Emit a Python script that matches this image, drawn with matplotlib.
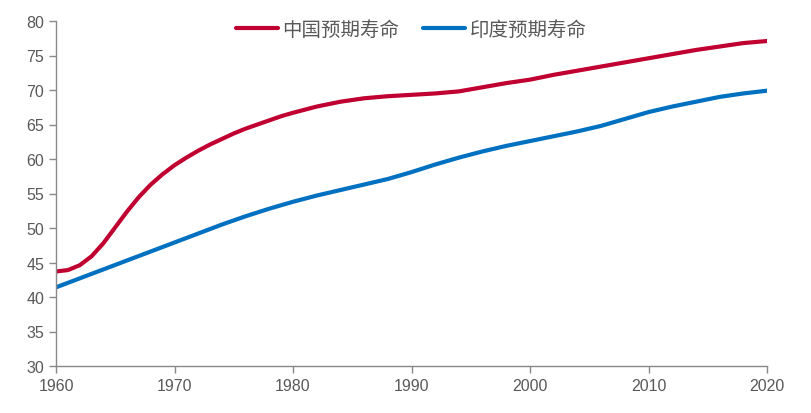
import matplotlib
matplotlib.use("Agg")
import matplotlib.pyplot as plt

china_years = [1960, 1961, 1962, 1963, 1964, 1965, 1966, 1967, 1968, 1969, 1970,
               1971, 1972, 1973, 1974, 1975, 1976, 1977, 1978, 1979, 1980,
               1982, 1984, 1986, 1988, 1990, 1992, 1994, 1996, 1998, 2000,
               2002, 2004, 2006, 2008, 2010, 2012, 2014, 2016, 2018, 2020]
china_life = [43.7, 43.9, 44.6, 45.9, 47.8, 50.1, 52.4, 54.5, 56.3, 57.8, 59.1,
              60.2, 61.2, 62.1, 62.9, 63.7, 64.4, 65.0, 65.6, 66.2, 66.7,
              67.6, 68.3, 68.8, 69.1, 69.3, 69.5, 69.8, 70.4, 71.0, 71.5,
              72.2, 72.8, 73.4, 74.0, 74.6, 75.2, 75.8, 76.3, 76.8, 77.1]

india_years = [1960, 1962, 1964, 1966, 1968, 1970, 1972, 1974, 1976, 1978, 1980,
               1982, 1984, 1986, 1988, 1990, 1992, 1994, 1996, 1998, 2000,
               2002, 2004, 2006, 2008, 2010, 2012, 2014, 2016, 2018, 2020]
india_life = [41.4, 42.7, 44.0, 45.3, 46.6, 47.9, 49.2, 50.5, 51.7, 52.8, 53.8,
              54.7, 55.5, 56.3, 57.1, 58.1, 59.2, 60.2, 61.1, 61.9, 62.6,
              63.3, 64.0, 64.8, 65.8, 66.8, 67.6, 68.3, 69.0, 69.5, 69.9]

series_labels = ["中国预期寿命", "印度预期寿命"]
x_ticks = [1960, 1970, 1980, 1990, 2000, 2010, 2020]
y_ticks = [30, 35, 40, 45, 50, 55, 60, 65, 70, 75, 80]

plt.rcParams['font.family'] = ['Liberation Sans', 'Noto Sans CJK SC', 'DejaVu Sans']

fig = plt.figure(figsize=(8.11, 4.14), dpi=100)
ax = fig.add_axes([56/811, 1-367/414, (767-56)/811, (367-22)/414])

ax.plot(china_years, china_life, color='#C00030', lw=3.0, label=series_labels[0],
        solid_capstyle='round', solid_joinstyle='round')
ax.plot(india_years, india_life, color='#0070C0', lw=3.0, label=series_labels[1],
        solid_capstyle='round', solid_joinstyle='round')

ax.set_xlim(1960, 2020)
ax.set_ylim(30, 80)
ax.set_xticks(x_ticks)
ax.set_yticks(y_ticks)
for s in ['top', 'right']:
    ax.spines[s].set_visible(False)
for s in ['left', 'bottom']:
    ax.spines[s].set_color('#898989')
    ax.spines[s].set_linewidth(1.0)
ax.tick_params(axis='both', colors='#898989', labelcolor='#595959', labelsize=11.5, length=5, width=1.0, direction='out')

fig.legend(loc='center', bbox_to_anchor=(411/811, 1-30/414), ncol=2, frameon=False,
           prop={'family': ['Noto Sans CJK SC', 'DejaVu Sans'], 'size': 14},
           labelcolor='#595959', handlelength=2.2, handletextpad=0.2, columnspacing=1.2)

fig.savefig('out.png', dpi=100)
